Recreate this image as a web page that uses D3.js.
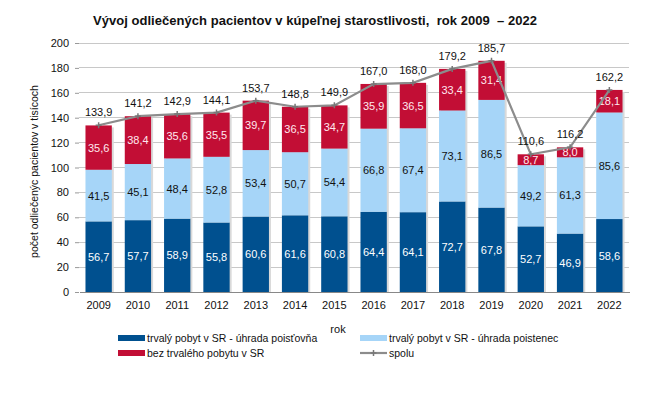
<!DOCTYPE html>
<html><head><meta charset="utf-8">
<script src="https://cdn.jsdelivr.net/npm/d3@7"></script>
<style>body{margin:0;background:#fff}svg{display:block;font-family:"Liberation Sans",Arial,sans-serif}</style>
</head><body>
<svg id="c" width="650" height="420"></svg>
<script>
const years = ["2009","2010","2011","2012","2013","2014","2015","2016","2017","2018","2019","2020","2021","2022"];
const poistovna = [56.7,57.7,58.9,55.8,60.6,61.6,60.8,64.4,64.1,72.7,67.8,52.7,46.9,58.6];
const poistenec = [41.5,45.1,48.4,52.8,53.4,50.7,54.4,66.8,67.4,73.1,86.5,49.2,61.3,85.6];
const bezPobytu = [35.6,38.4,35.6,35.5,39.7,36.5,34.7,35.9,36.5,33.4,31.4,8.7,8.0,18.1];
const spolu = [133.9,141.2,142.9,144.1,153.7,148.8,149.9,167.0,168.0,179.2,185.7,110.6,116.2,162.2];
const yTicks = [0,20,40,60,80,100,120,140,160,180,200];
const seriesNames = ["trvalý pobyt v SR - úhrada poisťovňa","trvalý pobyt v SR - úhrada poistenec","bez trvalého pobytu v SR","spolu"];
const colors = ["#00508F","#A6D5F8","#C20E35","#8C8C8C"];
const labelColors = ["#ffffff","#111111","#ffe8ee"];

const fmt = v => v.toFixed(1).replace(".", ",");
const svg = d3.select("#c");
const m = {l:79, r:21, t:43, b:128};
const W = 650, H = 420;
const x = d3.scaleBand().domain(years).range([m.l, W-m.r]).paddingInner(0.33).paddingOuter(0.165);
const y = d3.scaleLinear().domain([0,200]).range([H-m.b, m.t]);

// title
svg.append("text").attr("x",93).attr("y",25).attr("text-anchor","start")
  .attr("font-weight","bold").attr("font-size",13).attr("fill","#111")
  .style("white-space","pre").attr("textLength",444).attr("lengthAdjust","spacing")
  .text("Vývoj odliečených pacientov v kúpeľnej starostlivosti,  rok 2009  – 2022");

// grid
svg.append("g").selectAll("line").data(yTicks.filter(d=>d>0)).join("line")
  .attr("x1",m.l).attr("x2",W-m.r).attr("y1",d=>y(d)).attr("y2",d=>y(d))
  .attr("stroke","#c8c8c8").attr("stroke-width",1).attr("shape-rendering","crispEdges");

// y axis
const ya = svg.append("g").attr("transform",`translate(${m.l},0)`)
  .call(d3.axisLeft(y).tickValues(yTicks).tickSize(4).tickPadding(6));
ya.select(".domain").remove();
ya.selectAll("line").attr("stroke","#999");
ya.selectAll("text").attr("font-size",11).attr("fill","#111").attr("font-family","Liberation Sans, Arial");

// x axis
const xa = svg.append("g").attr("transform",`translate(0,${y(0)})`)
  .call(d3.axisBottom(x).tickSize(0).tickPadding(9));
xa.select(".domain").attr("stroke","#888").attr("shape-rendering","crispEdges");
xa.selectAll("text").attr("font-size",11).attr("fill","#111").attr("font-family","Liberation Sans, Arial");

// stacked data
const rows = years.map((yr,i)=>({year:yr, a:poistovna[i], b:poistenec[i], c:bezPobytu[i]}));
const stack = d3.stack().keys(["a","b","c"])(rows);

// shadows
svg.append("g").selectAll("rect").data(rows).join("rect")
  .attr("x",d=>x(d.year)+2).attr("width",x.bandwidth())
  .attr("y",d=>y(d.a+d.b+d.c)+2).attr("height",d=>y(0)-y(d.a+d.b+d.c)-2)
  .attr("fill","#d9d9d9");

stack.forEach((s,si)=>{
  const g = svg.append("g");
  g.selectAll("rect").data(s).join("rect")
    .attr("x",d=>x(d.data.year)).attr("width",x.bandwidth())
    .attr("y",d=>y(d[1])).attr("height",d=>y(d[0])-y(d[1]))
    .attr("fill",colors[si]);
  g.selectAll("text").data(s).join("text")
    .attr("x",d=>x(d.data.year)+x.bandwidth()/2)
    .attr("y",d=>(y(d[0])+y(d[1]))/2+4)
    .attr("text-anchor","middle").attr("font-size",11)
    .attr("fill",labelColors[si])
    .text(d=>fmt(d[1]-d[0]));
});

// total line
const line = d3.line().x((d,i)=>x(years[i])+x.bandwidth()/2).y(d=>y(d));
svg.append("path").datum(spolu).attr("d",line).attr("fill","none")
  .attr("stroke",colors[3]).attr("stroke-width",2.2);
svg.append("g").selectAll("path").data(spolu).join("path")
  .attr("transform",(d,i)=>`translate(${x(years[i])+x.bandwidth()/2},${y(d)})`)
  .attr("d","M-3,0H3M0,-3V3").attr("stroke","#777").attr("stroke-width",1.5);
svg.append("g").selectAll("text").data(spolu).join("text")
  .attr("x",(d,i)=>x(years[i])+x.bandwidth()/2).attr("y",d=>y(d)-9)
  .attr("text-anchor","middle").attr("font-size",11).attr("fill","#111")
  .text(d=>fmt(d));

// y title
svg.append("text").attr("transform",`translate(38,${(y(0)+y(200))/2+4}) rotate(-90)`)
  .attr("text-anchor","middle").attr("font-size",10.5).attr("fill","#111")
  .text("počet odliečenýc pacientov v tisícoch");

// x title
svg.append("text").attr("x",338).attr("y",333).attr("text-anchor","middle")
  .attr("font-size",11).attr("fill","#111").text("rok");

// legend
const leg = [
  {i:0,x:118,y:338},{i:1,x:360,y:338},{i:2,x:118,y:353},{i:3,x:360,y:353}
];
const lg = svg.append("g");
leg.forEach(l=>{
  if(l.i<3){
    lg.append("rect").attr("x",l.x).attr("y",l.y-3).attr("width",27).attr("height",6).attr("fill",colors[l.i]);
  } else {
    lg.append("line").attr("x1",l.x).attr("x2",l.x+27).attr("y1",l.y).attr("y2",l.y)
      .attr("stroke",colors[3]).attr("stroke-width",2.2);
    lg.append("path").attr("transform",`translate(${l.x+13.5},${l.y})`)
      .attr("d","M-3,0H3M0,-3V3").attr("stroke","#777").attr("stroke-width",1.5);
  }
  lg.append("text").attr("x",l.x+29).attr("y",l.y+4).attr("font-size",10.5).attr("fill","#111")
    .text(seriesNames[l.i]);
});
</script>
</body></html>
